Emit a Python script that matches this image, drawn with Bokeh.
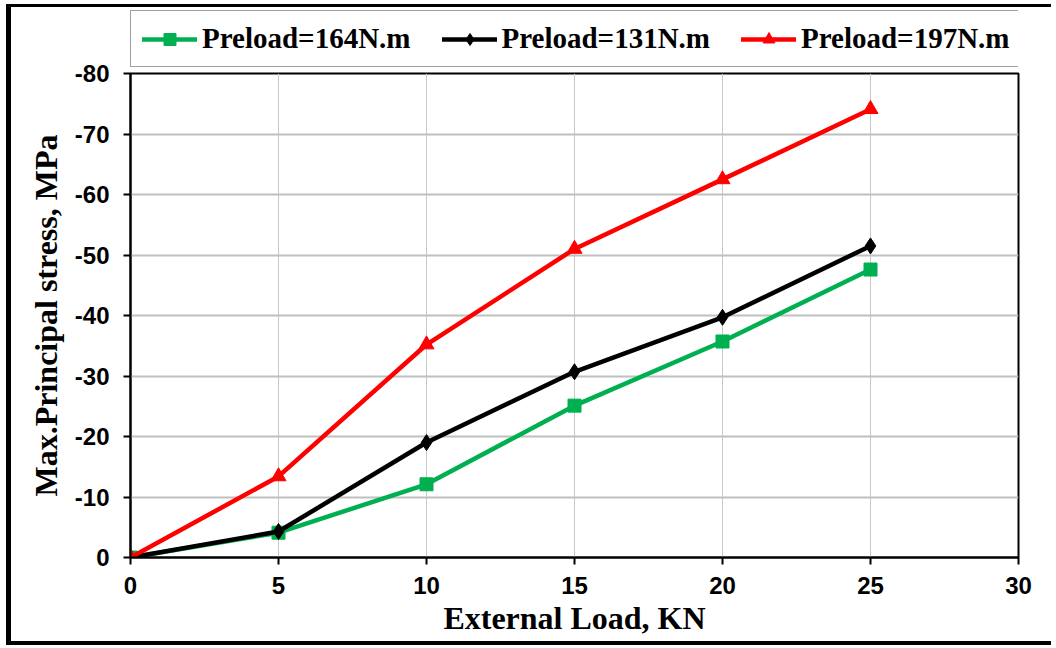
from bokeh.plotting import figure
from bokeh.layouts import column
from bokeh.models import Range1d, Legend, LegendItem, FixedTicker
from bokeh.embed import file_html
from bokeh.resources import INLINE

# ---- data ----
external_load = [0, 5, 10, 15, 20, 25]
preload_164 = [0, -4.1, -12.1, -25.1, -35.7, -47.6]
preload_131 = [0, -4.3, -19.0, -30.7, -39.7, -51.5]
preload_197 = [0, -13.4, -35.2, -51.0, -62.5, -74.1]
series_labels = ["Preload=164N.m", "Preload=131N.m", "Preload=197N.m"]
x_ticks = [0, 5, 10, 15, 20, 25, 30]
y_ticks = [0, -10, -20, -30, -40, -50, -60, -70, -80]

green, black, red = "#00B050", "#000000", "#FF0000"
colors = [green, black, red]
markers = ["square", "diamond", "triangle"]
msizes = [13, 16, 15]

# ---- main plot ----
p = figure(width=1040, height=581, output_backend="svg", toolbar_location=None,
           x_range=Range1d(0, 30), y_range=Range1d(0, -80),
           min_border_left=119, min_border_right=33, min_border_top=13, min_border_bottom=84)
p.border_fill_alpha = 0
p.styles = {"margin-top": "-8px"}

p.outline_line_color = "black"
p.outline_line_width = 2
p.outline_line_alpha = 1

p.xgrid.grid_line_color = "#c8c8c8"
p.xgrid.grid_line_width = 1
p.ygrid.grid_line_color = "#c0c0c0"
p.ygrid.grid_line_width = 2
p.xaxis.ticker = FixedTicker(ticks=x_ticks)
p.yaxis.ticker = FixedTicker(ticks=y_ticks)
p.yaxis.major_label_overrides = {t: str(t) for t in y_ticks}

for ax in (p.xaxis[0], p.yaxis[0]):
    ax.axis_line_color = "black"
    ax.axis_line_width = 2
    ax.major_tick_line_color = "black"
    ax.major_tick_line_width = 2
    ax.major_tick_out = 7
    ax.major_tick_in = 0
    ax.minor_tick_line_color = None
    ax.major_label_text_font = "Liberation Sans"
    ax.major_label_text_font_style = "bold"
    ax.major_label_text_font_size = "24px"
    ax.major_label_text_color = "black"
    ax.axis_label_text_font = "Liberation Serif"
    ax.axis_label_text_font_style = "bold"
    ax.axis_label_text_font_size = "32px"
    ax.axis_label_text_color = "black"

p.xaxis.axis_label = "External Load, KN"
p.yaxis.axis_label = "Max.Principal stress, MPa"
p.xaxis.major_label_standoff = 12
p.yaxis.major_label_standoff = 14
p.xaxis.axis_label_standoff = 3
p.yaxis.axis_label_standoff = 8

series = [preload_164, preload_131, preload_197]
for ys, c, mk, ms in zip(series, colors, markers, msizes):
    p.line(external_load, ys, line_color=c, line_width=4.5, line_join="round")
    p.scatter(external_load, ys, marker=mk, size=ms, color=c)

# ---- legend strip (its frame is aligned with the main frame by the column) ----
lf = figure(width=1040, height=61, output_backend="svg", toolbar_location=None,
            x_range=Range1d(0, 1), y_range=Range1d(0, 1),
            min_border_left=119, min_border_right=33,
            min_border_top=0, min_border_bottom=0)
lf.axis.visible = False
lf.grid.visible = False
lf.outline_line_color = None

items = []
for lab, c, mk, ms in zip(series_labels, colors, markers, msizes):
    rl = lf.line([5, 6], [5, 6], line_color=c, line_width=4.5, line_cap="round")
    rm = lf.scatter([5], [5], marker=mk, size=ms, color=c)
    items.append(LegendItem(label=lab, renderers=[rl, rm]))

legend = Legend(items=items, orientation="horizontal", location=(0, 1))
legend.label_text_font = "Liberation Serif"
legend.label_text_font_style = "bold"
legend.label_text_font_size = "29px"
legend.label_text_color = "black"
legend.label_height = 26
legend.glyph_width = 55
legend.glyph_height = 30
legend.label_standoff = 5
legend.spacing = 31
legend.padding = 11
legend.margin = 0
legend.border_line_color = "#404040"
legend.border_line_width = 1
legend.background_fill_color = "white"
legend.background_fill_alpha = 1
lf.add_layout(legend, "center")

layout = column(lf, p, spacing=0)
layout.styles = {"margin-left": "6px", "margin-top": "4px",
                 "border-left": "5px solid black", "border-top": "3px solid black",
                 "border-bottom": "4px solid black", "background-color": "white"}

open("out.html", "w").write(file_html(layout, INLINE))
